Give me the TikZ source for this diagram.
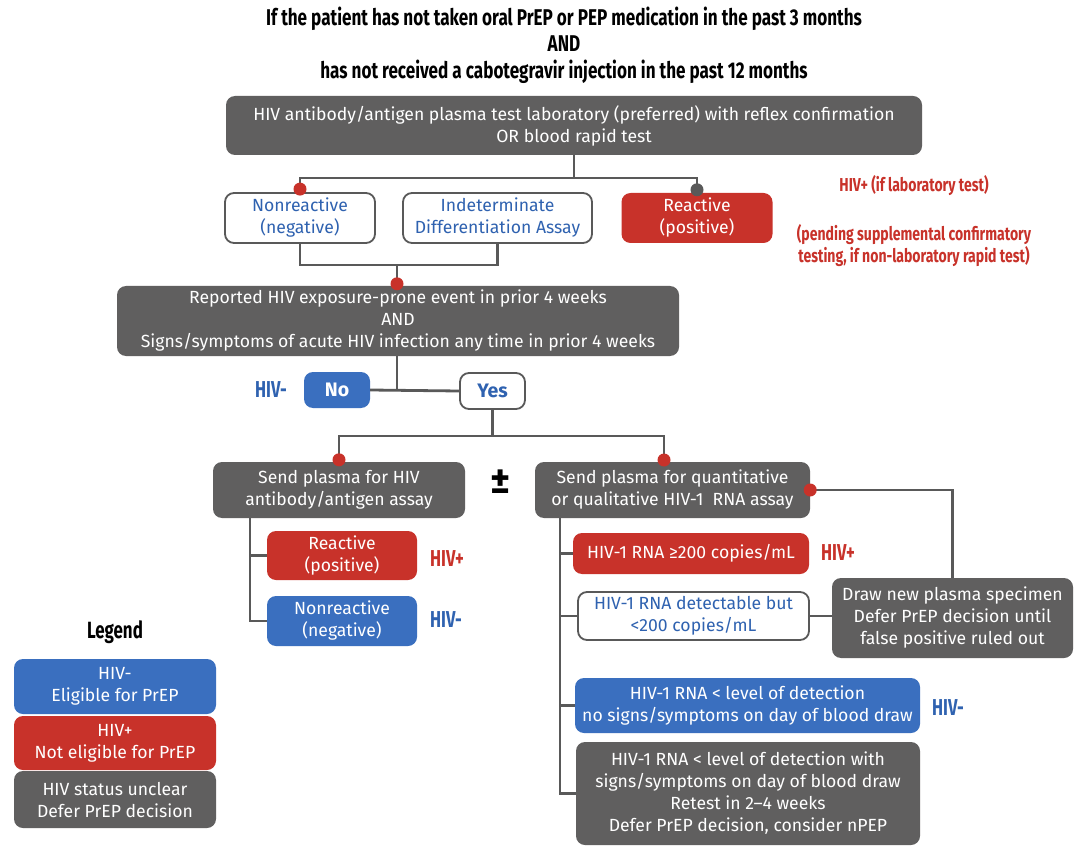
\documentclass[tikz,border=0pt]{standalone}
\usepackage{fontspec}
\setmainfont{Fira Sans}
\newfontfamily\condfont[FakeStretch=0.75]{Fira Sans}
\newfontfamily\labfont[FakeStretch=0.72]{Fira Sans}
\definecolor{cgray}{HTML}{605F5F}
\definecolor{cline}{HTML}{595959}
\definecolor{cred}{HTML}{C8322A}
\definecolor{cblue}{HTML}{3A6FBF}
\definecolor{ctblue}{HTML}{2F62B0}
\tikzset{
  body/.style={font=\fontsize{17.6}{22}\selectfont},
  box/.style={body, rounded corners=9pt, align=center, inner sep=0pt},
  graybox/.style={box, fill=cgray, text=white},
  redbox/.style={box, fill=cred, text=white},
  bluebox/.style={box, fill=cblue, text=white},
  whitebox/.style={box, fill=white, draw=cline, line width=1.8pt, text=ctblue},
  conn/.style={draw=cline, line width=2.8pt},
  lab/.style={font=\labfont\bfseries\fontsize{23}{26}\selectfont},
  title/.style={font=\condfont\bfseries\fontsize{22.8}{26.5}\selectfont, align=center},
  redlab/.style={font=\condfont\bfseries\fontsize{18.7}{22}\selectfont, text=cred, align=center},
  yn/.style={font=\bfseries\fontsize{19.5}{22}\selectfont},
}
\begin{document}
\begin{tikzpicture}[x=1pt,y=-1pt]
\useasboundingbox[fill=white] (0,0) rectangle (1076,850);

\node[title] (title) at (564,45) {If the patient has not taken oral PrEP or PEP medication in the past 3 months\\AND\\has not received a cabotegravir injection in the past 12 months};

\node[graybox, minimum width=696pt, minimum height=59pt] (box1) at (574,125.5) {HIV antibody/antigen plasma test laboratory (preferred) with reflex confirmation\\OR blood rapid test};

\node[whitebox, minimum width=150pt, minimum height=50pt] (nonr) at (300,218) {Nonreactive\\(negative)};
\node[whitebox, minimum width=189pt, minimum height=50pt] (indet) at (497.5,218) {Indeterminate\\Differentiation Assay};
\node[redbox, minimum width=151pt, minimum height=50pt] (react) at (697,218) {Reactive\\(positive)};

\node[redlab] (hivlab) at (914,186) {HIV+ (if laboratory test)};
\node[redlab] (pend) at (914,246) {(pending supplemental confirmatory\\testing, if non-laboratory rapid test)};

\node[graybox, minimum width=562pt, minimum height=70pt] (box2) at (398,321) {Reported HIV exposure-prone event in prior 4 weeks\\AND\\Signs/symptoms of acute HIV infection any time in prior 4 weeks};

\node[bluebox, yn, minimum width=66pt, minimum height=36pt] (no) at (337,390) {No};
\node[whitebox, yn, minimum width=65pt, minimum height=36pt] (yes) at (492.5,391) {Yes};
\node[lab, text=ctblue] (hivno) at (271,390) {HIV-};

\node[graybox, minimum width=252pt, minimum height=56pt] (lbox) at (339,490) {Send plasma for HIV\\antibody/antigen assay};
\node[graybox, minimum width=275pt, minimum height=56pt] (rbox) at (672.5,490) {Send plasma for quantitative\\or qualitative HIV-1\ \ RNA assay};
\node[font=\bfseries\fontsize{38}{38}\selectfont] (pm) at (501,482) {±};

\node[redbox, minimum width=150pt, minimum height=49pt] (lreact) at (342,555.5) {Reactive\\(positive)};
\node[bluebox, minimum width=150pt, minimum height=50pt] (lnon) at (342,621) {Nonreactive\\(negative)};
\node[lab, text=cred] (lhivp) at (447,559) {HIV+};
\node[lab, text=ctblue] (lhivn) at (446,620) {HIV-};

\node[redbox, minimum width=236pt, minimum height=41pt] (rna) at (691,553.5) {HIV-1 RNA ≥200 copies/mL};
\node[lab, text=cred] (rhivp) at (838,553) {HIV+};
\node[whitebox, minimum width=231pt, minimum height=48pt] (detect) at (693.5,616) {HIV-1 RNA detectable but\\<200 copies/mL};
\node[graybox, minimum width=241pt, minimum height=80pt] (drawn) at (952.5,618) {Draw new plasma specimen\\Defer PrEP decision until\\false positive ruled out};
\node[bluebox, minimum width=345pt, minimum height=55pt] (lod) at (747.5,705.5) {HIV-1 RNA < level of detection\\no signs/symptoms on day of blood draw};
\node[lab, text=ctblue] (rhivn) at (948,708) {HIV-};
\node[graybox, minimum width=344pt, minimum height=103pt] (lodss) at (748,793.5) {HIV-1 RNA < level of detection with\\signs/symptoms on day of blood draw\\Retest in 2–4 weeks\\Defer PrEP decision, consider nPEP};

\node[font=\labfont\bfseries\fontsize{23.5}{26}\selectfont] (legend) at (115,632) {Legend};
\node[bluebox, minimum width=202pt, minimum height=55pt] (lg1) at (115,686.5) {HIV-\\Eligible for PrEP};
\node[redbox, minimum width=202pt, minimum height=54pt] (lg2) at (115,743) {HIV+\\Not eligible for PrEP};
\node[graybox, minimum width=202pt, minimum height=57pt] (lg3) at (115,799.5) {HIV status unclear\\Defer PrEP decision};

% connectors
\coordinate (j1) at (574,178);
\draw[conn] (box1.south) -- (j1);
\draw[conn] (nonr.north) |- (j1) -| (react.north);
\coordinate (j2) at (397,265);
\draw[conn] (nonr.south) |- (j2) -| (indet.south);
\draw[conn] (j2) -- (box2.north -| j2);
\coordinate (j3) at (397,390);
\draw[conn] (box2.south -| j3) -- (j3);
\draw[conn] (no.east) -- (yes.west);
\coordinate (j4) at (492.5,436);
\draw[conn] (yes.south) -- (j4);
\coordinate (rtop) at (664,462);
\draw[conn] (lbox.north) |- (j4) -| (rtop);
\coordinate (lv) at (250,518);
\draw[conn] (lv) |- (lreact.west);
\draw[conn] (lv) |- (lnon.west);
\coordinate (rv) at (560,518);
\draw[conn] (rv) |- (rna.west);
\draw[conn] (rv) |- (detect.west);
\draw[conn] (rv) |- (lod.west);
\draw[conn] (rv) |- (lodss.west);
\draw[conn] (detect.east) -- (detect.east -| drawn.west);
\draw[conn] (rbox.east) -| (drawn.north);

% dots
\fill[cred] (nonr.north) ++(0,-3) circle (6.5pt);
\fill[cline] (react.north) ++(0,-3) circle (6.5pt);
\fill[cred] (box2.north -| j2) ++(0,-2) circle (6.5pt);
\fill[cred] (lbox.north) ++(0,-2) circle (6.5pt);
\fill[cred] (rtop) ++(0,-2) circle (6.5pt);
\fill[cred] (rbox.east) circle (6.5pt);
\end{tikzpicture}
\end{document}
